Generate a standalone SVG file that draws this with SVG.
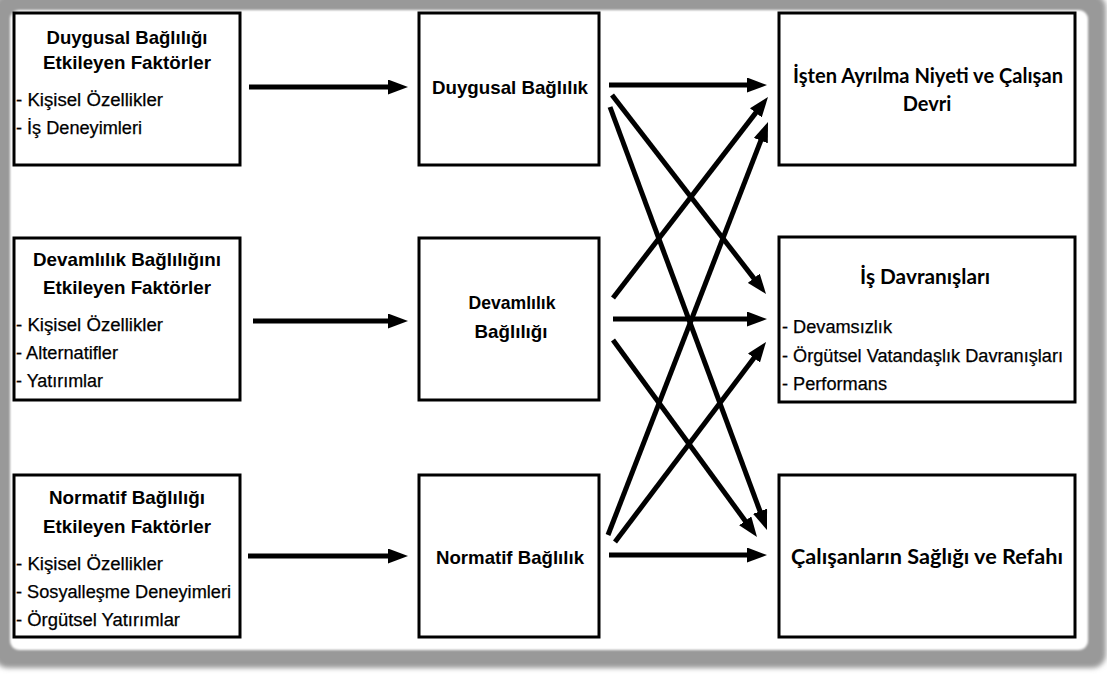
<svg xmlns="http://www.w3.org/2000/svg" width="1107" height="675" viewBox="0 0 1107 675">
<defs>
<style>
.box{fill:#fff;stroke:#000;stroke-width:3}
.t{font-family:"Liberation Sans",Arial,sans-serif;font-weight:bold;font-size:19px;fill:#000;text-anchor:middle}
.r{font-family:Lato,"Liberation Sans",sans-serif;font-weight:bold;font-size:20px;fill:#000;text-anchor:middle}
.b{font-family:"Liberation Sans",Arial,sans-serif;font-size:18px;fill:#000;stroke:#000;stroke-width:0.25}
.c line{stroke:#000;stroke-width:5;marker-end:url(#ah)}
</style>
<marker id="ah" markerUnits="strokeWidth" markerWidth="4" markerHeight="3" refX="2" refY="1.5" orient="auto">
<path d="M0,0 L4,1.5 L0,3 z" fill="#000"/>
</marker>
<filter id="bl" x="-5%" y="-5%" width="110%" height="110%"><feGaussianBlur stdDeviation="2.5"/></filter>
<filter id="bs" x="-5%" y="-5%" width="110%" height="110%"><feGaussianBlur stdDeviation="1.2"/></filter>
</defs>
<rect x="0" y="0" width="1107" height="675" fill="#fff"/>
<g id="frame">
<rect x="-6" y="-6" width="1112" height="674" rx="14" fill="#999" filter="url(#bl)"/>
<rect x="10" y="10" width="1078" height="640" rx="9" fill="#fff" filter="url(#bs)"/>
</g>
<g id="n-left1">
<rect class="box" x="14" y="13" width="226" height="152"/>
<text class="t" x="127" y="44" textLength="161" lengthAdjust="spacingAndGlyphs">Duygusal Bağlılığı</text>
<text class="t" x="127" y="69" textLength="168" lengthAdjust="spacingAndGlyphs">Etkileyen Faktörler</text>
<text class="b" x="16" y="106" textLength="147" lengthAdjust="spacingAndGlyphs">- Kişisel Özellikler</text>
<text class="b" x="16" y="134" textLength="126" lengthAdjust="spacingAndGlyphs">- İş Deneyimleri</text>
</g>
<g id="n-left2">
<rect class="box" x="14" y="238" width="226" height="162"/>
<text class="t" x="127" y="266" textLength="188" lengthAdjust="spacingAndGlyphs">Devamlılık Bağlılığını</text>
<text class="t" x="127" y="294" textLength="168" lengthAdjust="spacingAndGlyphs">Etkileyen Faktörler</text>
<text class="b" x="16" y="331" textLength="147" lengthAdjust="spacingAndGlyphs">- Kişisel Özellikler</text>
<text class="b" x="16" y="359" textLength="102" lengthAdjust="spacingAndGlyphs">- Alternatifler</text>
<text class="b" x="16" y="387" textLength="87" lengthAdjust="spacingAndGlyphs">- Yatırımlar</text>
</g>
<g id="n-left3">
<rect class="box" x="14" y="475" width="226" height="162"/>
<text class="t" x="127" y="504" textLength="156" lengthAdjust="spacingAndGlyphs">Normatif Bağlılığı</text>
<text class="t" x="127" y="533" textLength="168" lengthAdjust="spacingAndGlyphs">Etkileyen Faktörler</text>
<text class="b" x="16" y="570" textLength="147" lengthAdjust="spacingAndGlyphs">- Kişisel Özellikler</text>
<text class="b" x="16" y="598" textLength="215" lengthAdjust="spacingAndGlyphs">- Sosyalleşme Deneyimleri</text>
<text class="b" x="16" y="626" textLength="164" lengthAdjust="spacingAndGlyphs">- Örgütsel Yatırımlar</text>
</g>
<g id="n-mid1">
<rect class="box" x="419" y="13" width="180" height="152"/>
<text class="t" x="510" y="94" textLength="156" lengthAdjust="spacingAndGlyphs">Duygusal Bağlılık</text>
</g>
<g id="n-mid2">
<rect class="box" x="419" y="238" width="180" height="162"/>
<text class="t" x="512" y="309" textLength="87" lengthAdjust="spacingAndGlyphs">Devamlılık</text>
<text class="t" x="511" y="338" textLength="73" lengthAdjust="spacingAndGlyphs">Bağlılığı</text>
</g>
<g id="n-mid3">
<rect class="box" x="419" y="475" width="180" height="162"/>
<text class="t" x="510" y="564" textLength="148" lengthAdjust="spacingAndGlyphs">Normatif Bağlılık</text>
</g>
<g id="n-right1">
<rect class="box" x="779" y="13" width="296" height="152"/>
<text class="r" x="928" y="83" textLength="270" lengthAdjust="spacingAndGlyphs">İşten Ayrılma Niyeti ve Çalışan</text>
<text class="r" x="927" y="111">Devri</text>
</g>
<g id="n-right2">
<rect class="box" x="779" y="237" width="296" height="165"/>
<text class="r" x="925" y="284" textLength="130" lengthAdjust="spacingAndGlyphs">İş Davranışları</text>
<text class="b" x="782" y="333" textLength="110" lengthAdjust="spacingAndGlyphs">- Devamsızlık</text>
<text class="b" x="782" y="362" textLength="281" lengthAdjust="spacingAndGlyphs">- Örgütsel Vatandaşlık Davranışları</text>
<text class="b" x="782" y="390" textLength="105" lengthAdjust="spacingAndGlyphs">- Performans</text>
</g>
<g id="n-right3">
<rect class="box" x="779" y="475" width="296" height="162"/>
<text class="r" x="927" y="564" textLength="272" lengthAdjust="spacingAndGlyphs">Çalışanların Sağlığı ve Refahı</text>
</g>
<g id="connectors" class="c">
<line x1="249" y1="87" x2="398" y2="87"/>
<line x1="253" y1="321" x2="398" y2="321"/>
<line x1="248" y1="556" x2="398" y2="556"/>
<line x1="609" y1="85" x2="757" y2="85"/>
<line x1="612" y1="95" x2="759.9" y2="286.1"/>
<line x1="610" y1="107" x2="763.5" y2="520.6"/>
<line x1="613" y1="298" x2="761.9" y2="104.9"/>
<line x1="613" y1="319" x2="757" y2="319"/>
<line x1="613" y1="340" x2="751.1" y2="528.9"/>
<line x1="608" y1="535" x2="764.4" y2="131.3"/>
<line x1="615" y1="542" x2="760" y2="350"/>
<line x1="609" y1="555" x2="757" y2="555"/>
</g>
</svg>
